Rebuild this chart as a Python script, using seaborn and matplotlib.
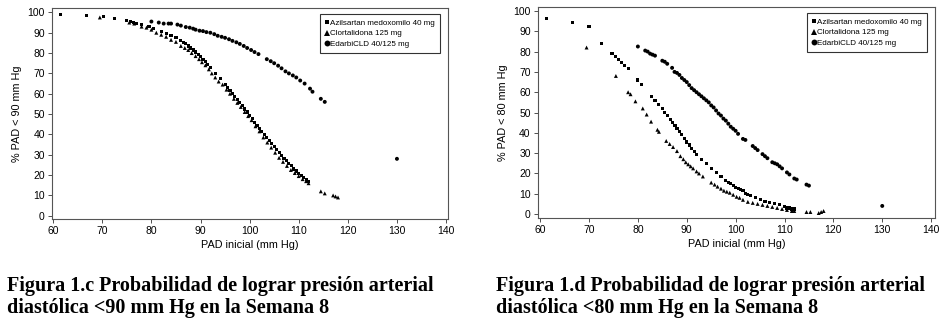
import matplotlib
matplotlib.use("Agg")
import matplotlib.pyplot as plt
import seaborn as sns
import pandas as pd

# ---------------- data ----------------
legend_labels = ["Azilsartan medoxomilo 40 mg", "Clortalidona 125 mg", "EdarbiCLD 40/125 mg"]

# Panel c: % PAD < 90 mm Hg
c_azil_x = [61.5, 66.7, 70.2, 72.5, 75, 75.7, 76.3, 77, 78, 79.5, 80.5, 82, 83, 84, 85, 86, 86.5, 87,
            87.5, 88, 88.5, 89, 89.5, 90, 90.5, 91, 91.5, 92, 93, 94, 95, 95.5, 96, 96.5, 97, 97.5, 98,
            98.5, 99, 99.5, 100, 100.5, 101, 101.5, 102, 102.5, 103, 103.5, 104, 104.5, 105, 105.5,
            106, 106.5, 107, 107.5, 108, 108.5, 109, 109.5, 110, 110.5, 111, 111.5, 112]
c_azil_y = [99, 98.5, 98, 97, 96, 95.5, 95, 94.5, 94, 93, 92, 90.5, 89.5, 88.5, 87.5, 86, 85, 84.5,
            83.5, 82.5, 81.5, 80.5, 79.5, 78.5, 77, 76, 74.5, 73, 70, 67.5, 64.5, 63, 61.5, 60, 58.5,
            57, 55.5, 54, 52.5, 51, 49.5, 48, 46, 44.5, 43, 41.5, 40, 38.5, 37, 35.5, 34, 32.5, 31,
            29.5, 28, 27, 25.5, 24.5, 23, 22, 21, 20, 19, 18, 17]
c_clor_x = [69.5, 75.5, 76.5, 78, 79, 80, 81, 82, 83, 84, 85, 86, 86.8, 87.5, 88.2, 89, 89.7, 90.3,
            91, 91.7, 92.3, 93, 93.7, 94.5, 95.3, 96, 96.8, 97.5, 98.2, 99, 99.7, 100.4, 101.2, 102,
            102.8, 103.6, 104.4, 105.2, 106, 106.8, 107.6, 108.4, 109.2, 110, 110.8, 111.5, 112,
            114.5, 115.3, 117, 117.5, 118]
c_clor_y = [97.5, 95, 94.5, 93, 92.5, 91.5, 90, 89, 88, 86.5, 85.5, 83.5, 82.5, 81.5, 80, 78.5, 77,
            75.5, 74, 72, 70, 68, 66, 64.5, 62, 60, 57.5, 55.5, 53.5, 51, 49, 47, 44, 41.5, 38.5, 36,
            33.5, 31, 28.5, 26.5, 24.5, 22.5, 21, 19.5, 18, 17, 16, 12, 11, 10, 9.5, 9]
c_edar_x = [80, 81.5, 82.5, 83.5, 84, 85.3, 86, 87, 87.8, 88.5, 89, 89.8, 90.5, 91.2, 92, 92.8, 93.5,
            94.3, 95, 95.8, 96.5, 97.3, 98, 98.8, 99.5, 100.3, 101, 101.8, 103.5, 104.3, 105, 105.8,
            106.5, 107.3, 108, 108.8, 109.5, 110.3, 111.2, 112.3, 112.8, 114.5, 115.3, 130]
c_edar_y = [95.5, 95, 94.5, 94.5, 94.5, 94, 93.5, 92.8, 92.5, 92, 91.5, 91, 90.8, 90.3, 90, 89.3,
            88.5, 88, 87.5, 86.8, 86, 85.3, 84.5, 83.5, 82.5, 81.5, 80.5, 79.5, 77, 76, 75, 73.8,
            72.5, 71, 70, 69, 68, 66.5, 65, 62.5, 61, 57.5, 56, 28]

# Panel d: % PAD < 80 mm Hg
d_azil_x = [61.3, 66.7, 70, 72.5, 74.7, 75.5, 76, 76.7, 77.3, 78, 80, 80.8, 82.8, 83.5, 84.3, 85,
            85.5, 86, 86.6, 87.1, 87.6, 88, 88.5, 89, 89.5, 90, 90.5, 91, 91.5, 92, 93, 94, 95, 96,
            97, 98, 98.5, 99, 99.5, 100, 100.5, 101, 101.5, 102, 102.5, 103, 104, 105, 106, 107, 108,
            109, 110, 110.5, 111, 111.5, 112]
d_azil_y = [96.5, 94.5, 92.5, 84, 79, 77.5, 76, 74.5, 73, 71.5, 66, 64, 58, 56, 54, 52, 50, 48.5,
            46.5, 45, 43.5, 42, 40.5, 39, 37, 35.5, 34, 32.5, 31, 29.5, 27, 25, 22.5, 20.5, 18.5,
            16.5, 15.5, 15, 14, 13, 12.5, 12, 11.5, 10, 9.5, 9, 8, 7, 6, 5.5, 5, 4.5, 3.5, 3, 3, 2.5,
            2.5]
d_clor_x = [69.5, 75.5, 78, 78.5, 79.5, 81, 81.8, 82.7, 84, 84.3, 85.8, 86.5, 87.2, 88, 88.7, 89.3,
            89.8, 90.3, 90.8, 91.3, 92, 92.5, 93.3, 95, 95.7, 96.3, 97, 97.6, 98.2, 98.8, 99.5, 100.2,
            100.8, 101.5, 102.5, 103.5, 104.5, 105.5, 106.5, 107.5, 108.5, 109.5, 110.5, 111.5, 112,
            114.5, 115.3, 117, 117.5, 118]
d_clor_y = [82, 68, 60, 59, 55.5, 52, 49, 45.5, 41.5, 40.5, 36, 34.5, 33, 31, 28.5, 27, 25.5, 24.5,
            23.5, 22.5, 21, 20, 18.5, 15.5, 14.5, 13.5, 12.5, 11.5, 11, 10.5, 9.5, 8.5, 8, 7, 6, 5.5,
            5, 4.5, 4, 3.5, 3, 2.5, 2, 1.5, 1.5, 1, 1, 0.5, 1, 1.5]
d_edar_x = [80, 81.5, 82, 82.5, 83, 83.5, 85, 85.5, 86, 87, 87.5, 88, 88.5, 89, 89.5, 90, 90.5, 91,
            91.5, 92, 92.5, 93, 93.5, 94, 94.5, 95, 95.5, 96, 96.5, 97, 97.5, 98, 98.5, 99, 99.5, 100,
            100.5, 101.5, 102, 103.5, 104, 104.5, 105.5, 106, 106.5, 107.5, 108, 108.5, 109, 109.5,
            110.5, 111, 112, 112.5, 114.5, 115, 130]
d_edar_y = [82.5, 80.5, 80, 79, 78.5, 78, 75.5, 75, 74, 72, 70, 69.5, 68.5, 67, 66, 65, 63.5, 62,
            61, 60, 59, 58, 57, 56, 55, 53.5, 52.5, 51, 49.5, 48.5, 47, 46, 44.5, 43, 42, 41, 39.5,
            37, 36.5, 33.5, 32.5, 31.5, 29.5, 28.5, 27.5, 25.5, 25, 24.5, 23.5, 22.5, 20.5, 19.5,
            17.5, 17, 14.5, 14, 4]

x_ticks = [60, 70, 80, 90, 100, 110, 120, 130, 140]
y_ticks = [0, 10, 20, 30, 40, 50, 60, 70, 80, 90, 100]
ylabels = ["% PAD < 90 mm Hg", "% PAD < 80 mm Hg"]
xlabel = "PAD inicial (mm Hg)"
captions = ["Figura 1.c Probabilidad de lograr presión arterial\ndiastólica <90 mm Hg en la Semana 8",
            "Figura 1.d Probabilidad de lograr presión arterial\ndiastólica <80 mm Hg en la Semana 8"]


def make_df(ax_, ay_, cx_, cy_, ex_, ey_):
    rows = []
    for name, xs, ys in zip(legend_labels, [ax_, cx_, ex_], [ay_, cy_, ey_]):
        for a, b in zip(xs, ys):
            rows.append({"x": a, "y": b, "Tratamiento": name})
    return pd.DataFrame(rows)


dfs = [make_df(c_azil_x, c_azil_y, c_clor_x, c_clor_y, c_edar_x, c_edar_y),
       make_df(d_azil_x, d_azil_y, d_clor_x, d_clor_y, d_edar_x, d_edar_y)]

sns.set_style("ticks")
plt.rcParams["font.family"] = ["Liberation Sans", "DejaVu Sans"]
plt.rcParams["text.color"] = "black"
plt.rcParams["axes.labelcolor"] = "black"
plt.rcParams["xtick.color"] = "black"
plt.rcParams["ytick.color"] = "black"

fig = plt.figure(figsize=(9.42, 3.33), dpi=100)
positions = [[0.0549, 0.3423, 0.4207, 0.6327], [0.5708, 0.3444, 0.4218, 0.6336]]
ylims = [(-1.6, 102), (-2.1, 101.8)]
xlims = [(59.7, 140.4), (59.5, 140.8)]
markers = {legend_labels[0]: "s", legend_labels[1]: "^", legend_labels[2]: "o"}
marker_sizes = {legend_labels[0]: 5, legend_labels[1]: 8, legend_labels[2]: 8}

for i in range(2):
    ax = fig.add_axes(positions[i])
    sns.scatterplot(data=dfs[i], x="x", y="y", style="Tratamiento", markers=markers,
                    size="Tratamiento", sizes=marker_sizes, size_order=legend_labels,
                    color="black", edgecolor="black", linewidth=0, ax=ax,
                    style_order=legend_labels)
    ax.set_xlim(*xlims[i])
    ax.set_ylim(*ylims[i])
    ax.set_xticks(x_ticks)
    ax.set_yticks(y_ticks)
    ax.tick_params(labelsize=7.5, length=3, width=0.6, color="#333333", pad=2)
    for sp in ax.spines.values():
        sp.set_color("#555555")
        sp.set_linewidth(0.8)
    ax.set_xlabel(xlabel, fontsize=7.8, labelpad=3)
    ax.set_ylabel(ylabels[i], fontsize=7.8, labelpad=4)
    leg = ax.legend(loc="upper right", fontsize=5.8, frameon=True, fancybox=False,
                    edgecolor="black", markerscale=1.5, handletextpad=0.1,
                    handlelength=0.6, borderpad=0.6, labelspacing=0.35,
                    bbox_to_anchor=(0.99, 0.99))
    leg.get_frame().set_linewidth(0.8)
    leg.set_title(None)

for i, (xpos, cap) in enumerate(zip([0.007, 0.527], captions)):
    fig.text(xpos, 0.172, cap, fontsize=14.5, fontweight="bold", color="black",
             family=["Liberation Serif", "DejaVu Serif"], va="top", ha="left",
             linespacing=1.15)

fig.savefig("out.png", dpi=100)
